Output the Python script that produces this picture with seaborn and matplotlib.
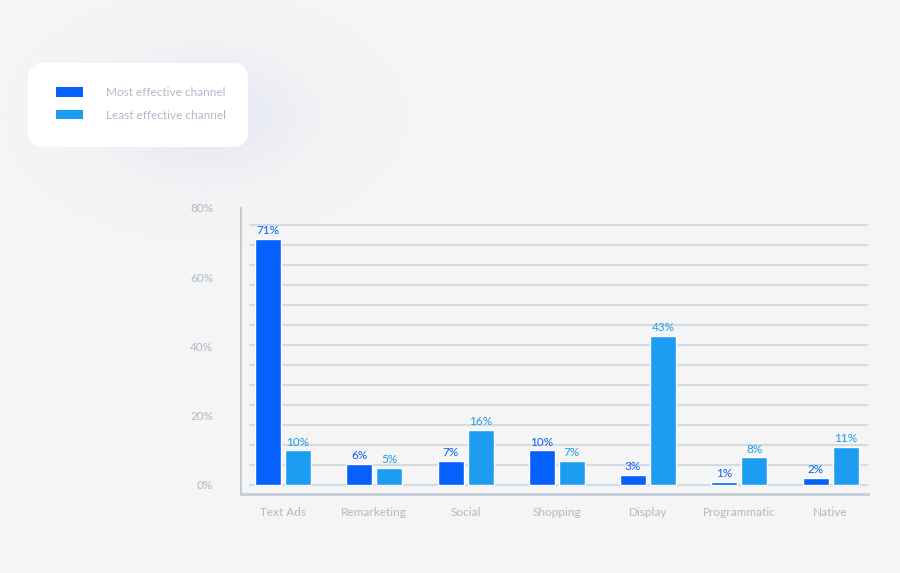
import matplotlib
matplotlib.use("Agg")
import matplotlib.pyplot as plt
from matplotlib.patches import FancyBboxPatch, Patch
import matplotlib.colors as mcolors
import seaborn as sns
import pandas as pd
import numpy as np

# ---- data ----
categories = ["Text Ads", "Remarketing", "Social", "Shopping", "Display", "Programmatic", "Native"]
most_effective = [71, 6, 7, 10, 3, 1, 2]
least_effective = [10, 5, 16, 7, 43, 8, 11]
series_names = ["Most effective channel", "Least effective channel"]
y_ticks = [0, 20, 40, 60, 80]
y_tick_labels = ["0%", "20%", "40%", "60%", "80%"]

df = pd.DataFrame({
    "channel": categories * 2,
    "series": [series_names[0]] * len(categories) + [series_names[1]] * len(categories),
    "value": most_effective + least_effective,
})

DARK = "#0560fd"
LIGHT = "#1d9df1"
TEXT = "#aebac9"
GRID = "#d3dbe4"
SPINE = "#c3cdd8"
BG = "#f5f5f5"

sns.set_theme(style="white")
plt.rcParams["font.family"] = ["Lato", "DejaVu Sans"]

W, H = 900, 573
fig = plt.figure(figsize=(9, 5.73), dpi=100, facecolor=BG)

# soft glow behind legend box (decorative background)
bg_ax = fig.add_axes([0, 0, 1, 1], zorder=-5)
bg_ax.set_axis_off()
yy, xx = np.mgrid[0:H, 0:W]
glow = np.exp(-(((xx - 205) / 92.0) ** 2 + ((yy - 115) / 58.0) ** 2))
rgba = np.zeros((H, W, 4))
rgba[..., :3] = mcolors.to_rgb("#d8dcf2")
rgba[..., 3] = 0.55 * glow
bg_ax.imshow(rgba, extent=(0, W, H, 0), aspect="auto", interpolation="bilinear")
bg_ax.set_xlim(0, W)
bg_ax.set_ylim(H, 0)
bg_ax.add_patch(FancyBboxPatch(
    (28, 63), 220, 84, boxstyle="round,pad=0,rounding_size=16",
    facecolor="white", edgecolor="none", zorder=3))

ax_left, ax_right, ax_top, ax_bottom = 241, 868, 208, 494
ax = fig.add_axes([ax_left / W, 1 - ax_bottom / H, (ax_right - ax_left) / W, (ax_bottom - ax_top) / H])
ax.set_facecolor("none")

# horizontal grid lines (every 20 px)
px_per_unit = (ax_bottom - ax_top) / (80 + 2.6)
step = 20 / px_per_unit
for k in range(14):
    ax.axhline(k * step, xmin=9 / (ax_right - ax_left), xmax=1, color=GRID, lw=1.5, zorder=0)

sns.barplot(data=df, x="channel", y="value", hue="series", order=categories,
            hue_order=series_names, palette=[DARK, LIGHT], width=0.657, gap=0.133,
            saturation=1, ax=ax, legend=False, zorder=3)

for cont, col in zip(ax.containers, [DARK, LIGHT]):
    ax.bar_label(cont, labels=[f"{int(v)}%" for v in cont.datavalues], padding=2,
                 color=col, fontsize=8.5, zorder=4)

ax.set_ylim(-2.6, 80)
ax.set_xlim(-0.46, 6.41)
ax.set_yticks(y_ticks)
ax.set_yticklabels(y_tick_labels)
ax.set_xlabel("")
ax.set_ylabel("")
ax.tick_params(axis="y", length=0, pad=20, labelsize=8.5, labelcolor=TEXT)
ax.tick_params(axis="x", length=0, pad=9, labelsize=8.5, labelcolor=TEXT)

for s in ["top", "right"]:
    ax.spines[s].set_visible(False)
ax.spines["left"].set_color(SPINE)
ax.spines["left"].set_linewidth(1.5)
ax.spines["bottom"].set_color(SPINE)
ax.spines["bottom"].set_linewidth(2)

handles = [Patch(facecolor=DARK, edgecolor="none"), Patch(facecolor=LIGHT, edgecolor="none")]
leg = fig.legend(handles, series_names, loc="upper left",
                 bbox_to_anchor=(55.5 / W, 1 - 87 / H), frameon=False, fontsize=8.5,
                 handlelength=2.3, handleheight=0.85, handletextpad=2.0,
                 labelspacing=1.0, borderpad=0, borderaxespad=0)
for t in leg.get_texts():
    t.set_color(TEXT)
leg.set_zorder(5)

fig.savefig("out.png", dpi=100, facecolor=BG)
